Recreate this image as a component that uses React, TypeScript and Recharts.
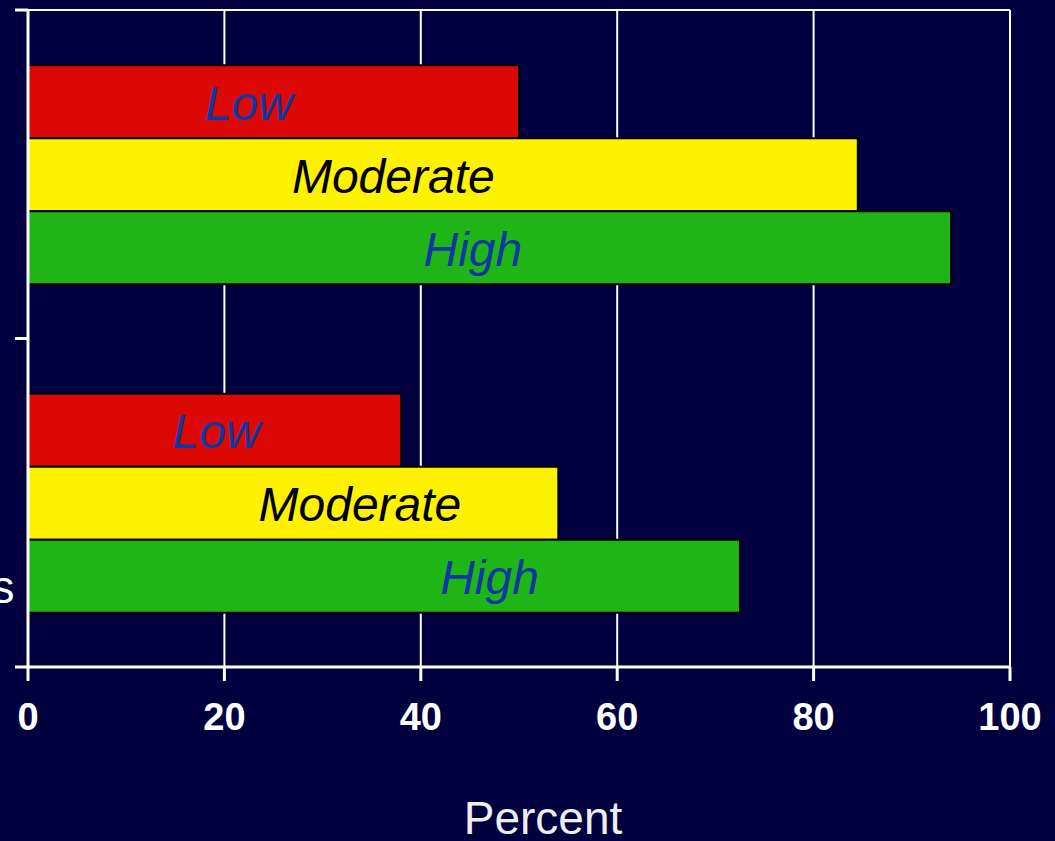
import React from "react";
import {
  BarChart,
  Bar,
  XAxis,
  YAxis,
  CartesianGrid,
  LabelList,
} from "recharts";

// category label lines (the chart is cropped, only the tail of the lower one shows)
const categories = ["Three or more visits", "No prior group sessions"];
const categoryLines = [
  ["Three", "or", "more", "visits"],
  ["No", "prior", "group", "sessions"],
];

const lowValues = [50, 38];
const moderateValues = [84.5, 54];
const highValues = [94, 72.5];

// where each bar's text is centred, in percent units
const lowLabelAt = [22.5, 19.2];
const moderateLabelAt = [37.2, 33.8];
const highLabelAt = [45.3, 47];

const xTicks = [0, 20, 40, 60, 80, 100];

const data = categories.map((name, i) => ({
  name,
  low: lowValues[i],
  moderate: moderateValues[i],
  high: highValues[i],
}));

const W = 1055;
const H = 841;
const Y_AXIS_W = 28;
const MARGIN = { top: 10, right: 45, left: 0, bottom: 0 };
const X_AXIS_H = 174;
const PLOT_H = H - MARGIN.top - MARGIN.bottom - X_AXIS_H;
const BAND_HALF = PLOT_H / categories.length / 2;

const BG = "#00003f";
const BLUE_TEXT = "#1038a0";

const CategoryTick = (props: any) => {
  const { y, index } = props;
  const ax = Y_AXIS_W;
  const lines = categoryLines[index] || [];
  const lh = 55;
  const first = y - ((lines.length - 1) * lh) / 2;
  return (
    <g>
      <line x1={ax - 13} x2={ax} y1={y - BAND_HALF} y2={y - BAND_HALF} stroke="#fff" strokeWidth={3} />
      <line x1={ax - 13} x2={ax} y1={y + BAND_HALF} y2={y + BAND_HALF} stroke="#fff" strokeWidth={3} />
      <text
        textAnchor="middle"
        fill="#fff"
        fontSize={46}
        fontFamily="Liberation Sans, Arial, sans-serif"
      >
        {lines.map((l, k) => (
          <tspan key={k} x={-75} y={first + k * lh + 18}>
            {l}
          </tspan>
        ))}
      </text>
    </g>
  );
};

const makeBarLabel = (anchors: number[], color: string, text: string) => (props: any) => {
  const { x, y, width, height, value, index } = props;
  const cx = x + (width * anchors[index]) / value;
  return (
    <text
      x={cx}
      y={y + height / 2 + 18}
      textAnchor="middle"
      fill={color}
      fontSize={48}
      fontStyle="italic"
      fontFamily="Liberation Sans, Arial, sans-serif"
    >
      {text}
    </text>
  );
};

const PercentLabel = (props: any) => {
  const { viewBox } = props;
  const { x, y, width } = viewBox;
  return (
    <text
      x={x + width / 2 + 24}
      y={y + 167}
      textAnchor="middle"
      fill="#eeeeee"
      fontSize={46}
      fontFamily="Liberation Sans, Arial, sans-serif"
    >
      Percent
    </text>
  );
};

export default function App() {
  return (
    <div
      style={{
        position: "absolute",
        left: 0,
        top: 0,
        width: W,
        height: H,
        background: BG,
        overflow: "hidden",
      }}
    >
      <BarChart
        width={W}
        height={H}
        data={data}
        layout="vertical"
        margin={MARGIN}
        barGap={0}
        barCategoryGap="16.8%"
      >
        <CartesianGrid
          stroke="#ffffff"
          strokeWidth={2}
          horizontalCoordinatesGenerator={({ offset }: any) => [offset.top]}
        />
        <XAxis
          type="number"
          domain={[0, 100]}
          ticks={xTicks}
          interval={0}
          height={X_AXIS_H}
          axisLine={{ stroke: "#fff", strokeWidth: 3 }}
          tickLine={{ stroke: "#fff", strokeWidth: 3 }}
          tickSize={14}
          tickMargin={22}
          tick={{
            fill: "#fff",
            fontSize: 38,
            fontWeight: "bold",
            fontFamily: "Liberation Sans, Arial, sans-serif",
          }}
          label={<PercentLabel />}
        />
        <YAxis
          type="category"
          dataKey="name"
          width={Y_AXIS_W}
          axisLine={{ stroke: "#fff", strokeWidth: 3 }}
          tickLine={false}
          tick={<CategoryTick />}
          interval={0}
        />
        <Bar dataKey="low" fill="#dc0804" stroke="#000" strokeWidth={2} isAnimationActive={false}>
          <LabelList dataKey="low" content={makeBarLabel(lowLabelAt, BLUE_TEXT, "Low")} />
        </Bar>
        <Bar dataKey="moderate" fill="#fff200" stroke="#000" strokeWidth={2} isAnimationActive={false}>
          <LabelList dataKey="moderate" content={makeBarLabel(moderateLabelAt, "#000", "Moderate")} />
        </Bar>
        <Bar dataKey="high" fill="#1fb516" stroke="#000" strokeWidth={2} isAnimationActive={false}>
          <LabelList dataKey="high" content={makeBarLabel(highLabelAt, BLUE_TEXT, "High")} />
        </Bar>
      </BarChart>
    </div>
  );
}
